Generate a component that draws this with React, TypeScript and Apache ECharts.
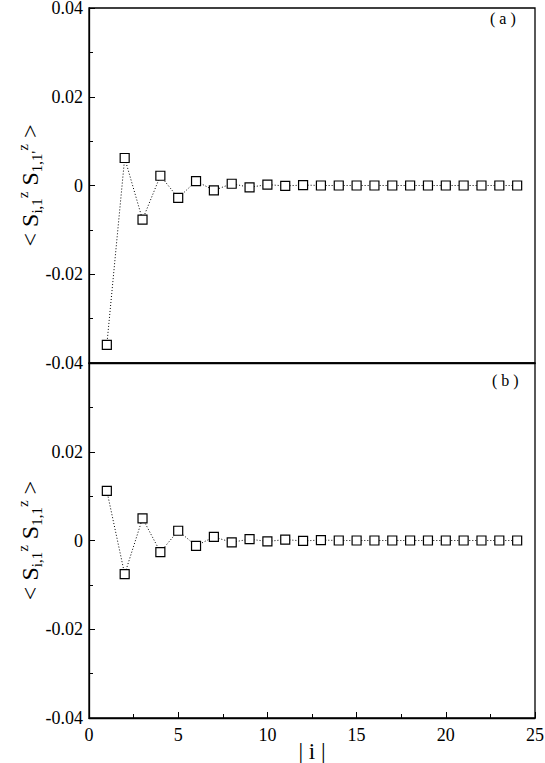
import React, { useEffect, useRef } from "react";
import * as echarts from "echarts";

const iValues = [1, 2, 3, 4, 5, 6, 7, 8, 9, 10, 11, 12, 13, 14, 15, 16, 17, 18, 19, 20, 21, 22, 23, 24];
const corrA = [-0.0359, 0.0062, -0.0077, 0.0022, -0.0028, 0.0010, -0.0011, 0.0004, -0.0004, 0.0002, -0.0001, 0.0001, 0.0, 0.0, 0.0, 0.0, 0.0, 0.0, 0.0, 0.0, 0.0, 0.0, 0.0, 0.0];
const corrB = [0.0112, -0.0076, 0.0050, -0.0026, 0.0022, -0.0012, 0.0008, -0.0004, 0.0003, -0.0002, 0.0002, -0.0001, 0.0001, 0.0, 0.0, 0.0, 0.0, 0.0, 0.0, 0.0, 0.0, 0.0, 0.0, 0.0];
const panelLabels = ["( a )", "( b )"];
const xLabel = "| i |";

const FONT = "Liberation Serif";

export default function App() {
  const ref = useRef<HTMLDivElement>(null);
  useEffect(() => {
    if (!ref.current) return;
    const chart = echarts.init(ref.current, null, { renderer: "svg" });
    const left = 89, width = 446, topA = 8, h = 355;
    const rich = {
      n: { fontFamily: FONT, fontSize: 24, color: "#000", lineHeight: 30, verticalAlign: "middle" },
      sub: { fontFamily: FONT, fontSize: 15, color: "#000", lineHeight: 30, verticalAlign: "bottom", padding: [0, 0, 1, 0] },
      sup: { fontFamily: FONT, fontSize: 15, color: "#000", lineHeight: 30, verticalAlign: "top", padding: [0, 0, 0, 0] },
    };
    const yAxisCommon = (gi: number, hideTop: boolean, name: string) => ({
      type: "value",
      gridIndex: gi,
      min: -0.04,
      max: 0.04,
      interval: 0.02,
      axisLine: { show: true, onZero: false, lineStyle: { color: "#000", width: 1.3 } },
      axisTick: { show: true, inside: true, length: 6, lineStyle: { color: "#000", width: 1 } },
      minorTick: { show: true, splitNumber: 2, length: 4, lineStyle: { color: "#000", width: 1 } },
      splitLine: { show: false },
      axisLabel: {
        fontFamily: FONT,
        fontSize: 18,
        lineHeight: 14,
        color: "#000",
        margin: 6,
        formatter: (v: number) => {
          if (hideTop && Math.abs(v - 0.04) < 1e-9) return "";
          if (Math.abs(v) < 1e-9) return "0";
          return String(Math.round(v * 100) / 100);
        },
      },
      name,
      nameLocation: "middle",
      nameRotate: 90,
      nameGap: 44,
      nameMoveOverlap: false,
      nameTextStyle: { rich, fontFamily: FONT, fontSize: 24, color: "#000" },
    });
    chart.setOption({
      animation: false,
      backgroundColor: "#fff",
      grid: [
        { left, width, top: topA, height: h, show: true, borderColor: "#000", borderWidth: 1.3, containLabel: false, outerBoundsMode: "none" },
        { left, width, top: topA + h, height: h, show: true, borderColor: "#000", borderWidth: 1.3, containLabel: false, outerBoundsMode: "none" },
      ],
      xAxis: [
        {
          type: "value", gridIndex: 0, min: 0, max: 25, interval: 5,
          axisLine: { show: true, onZero: false, lineStyle: { color: "#000", width: 1.3 } },
          axisTick: { show: false },
          axisLabel: { show: false },
          splitLine: { show: false },
        },
        {
          type: "value", gridIndex: 1, min: 0, max: 25, interval: 5,
          axisLine: { show: true, onZero: false, lineStyle: { color: "#000", width: 1.3 } },
          axisTick: { show: true, inside: true, length: 6, lineStyle: { color: "#000", width: 1 } },
          minorTick: { show: true, splitNumber: 2, length: 4, lineStyle: { color: "#000", width: 1 } },
          splitLine: { show: false },
          axisLabel: { fontFamily: FONT, fontSize: 18, color: "#000", margin: 8 },
        },
      ],
      yAxis: [
        yAxisCommon(0, false, "{n|< S}{sub|i,1}{sup|z}{n| S}{sub|1,1'}{sup|z}{n| >}"),
        yAxisCommon(1, true, "{n|< S}{sub|i,1}{sup|z}{n| S}{sub|1,1}{sup|z}{n| >}"),
      ],
      graphic: [
        { type: "text", left: 490, top: 10, style: { text: panelLabels[0], fontFamily: FONT, fontSize: 16, fill: "#000" } },
        { type: "text", left: 492, top: 372, style: { text: panelLabels[1], fontFamily: FONT, fontSize: 16, fill: "#000" } },
        { type: "text", x: 312, y: 740, style: { text: xLabel, fontFamily: FONT, fontSize: 23, lineHeight: 22, fill: "#000", align: "center", verticalAlign: "top" } },
      ],
      series: [
        {
          type: "line", xAxisIndex: 0, yAxisIndex: 0,
          data: iValues.map((x, k) => [x, corrA[k]]),
          symbol: "rect", symbolSize: 9,
          lineStyle: { color: "#000", width: 1, type: [1, 2] },
          itemStyle: { color: "#fff", borderColor: "#000", borderWidth: 1.2 },
        },
        {
          type: "line", xAxisIndex: 1, yAxisIndex: 1,
          data: iValues.map((x, k) => [x, corrB[k]]),
          symbol: "rect", symbolSize: 9,
          lineStyle: { color: "#000", width: 1, type: [1, 2] },
          itemStyle: { color: "#fff", borderColor: "#000", borderWidth: 1.2 },
        },
      ],
    });
    return () => chart.dispose();
  }, []);
  return (
    <div
      ref={ref}
      style={{ position: "fixed", left: 0, top: 0, width: 545, height: 763, background: "#fff" }}
    />
  );
}
